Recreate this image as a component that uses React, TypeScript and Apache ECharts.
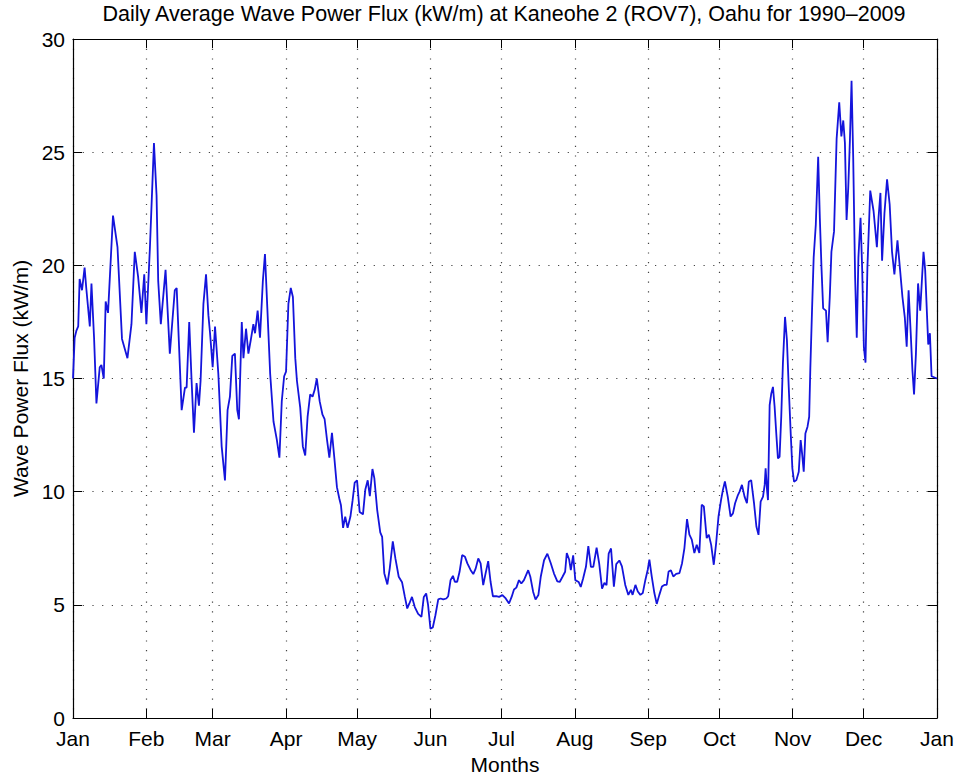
import React, { useEffect, useRef } from "react";
import * as echarts from "echarts";

const monthStarts = [0, 31, 59, 90, 120, 151, 181, 212, 243, 273, 304, 334, 365];
const monthLabels = ["Jan", "Feb", "Mar", "Apr", "May", "Jun", "Jul", "Aug", "Sep", "Oct", "Nov", "Dec", "Jan"];
const yTicks = [0, 5, 10, 15, 20, 25, 30];

const days = [
  0, 0.7, 1.4, 2.2, 2.8, 3.8, 4.9, 5.6, 7.1, 7.8, 8.9, 9.9, 11.3, 12.0, 13.0, 13.8, 14.8, 16.9, 18.8, 20.7,
  23.0, 24.7, 26.1, 27.5, 28.9, 30.1, 31.0, 32.5, 34.2, 35.3, 36.0, 37.1, 39.1, 40.9, 43.0, 43.8,
  45.9, 47.3, 48.0, 49.1, 50.1, 51.1, 52.2, 53.2, 53.9, 55.1, 56.2, 57.2, 57.9, 59.0, 60.0, 61.4, 62.8, 64.2,
  65.3, 66.3, 67.3, 68.4, 69.4, 70.1, 71.3, 72.0, 73.1, 74.1, 75.1, 76.2, 76.9, 78.0, 79.0, 80.2, 81.1, 82.1,
  83.3, 84.7, 86.1, 87.2, 88.2, 89.2,
  90.0, 91.0, 92.0, 92.9, 93.9, 94.6, 96.0, 97.1, 98.1, 99.1, 100.2, 101.2, 102.1, 103.0, 104.2, 105.4, 106.3,
  107.3, 108.3, 109.4, 110.4, 111.5, 112.5, 113.2, 114.1, 115.0, 116.0, 117.2, 118.1, 119.0, 120.0, 121.1,
  122.5, 123.5, 124.5, 125.4, 126.5, 127.3, 128.5, 129.8, 130.6, 131.5, 132.8, 133.8, 135.1,
  136.2, 137.6, 139.0, 140.2, 141.2, 142.1, 143.2, 144.4, 145.8, 147.2, 148.2, 149.2, 150.0, 151.0, 152.0,
  153.1, 154.3, 155.3, 156.4, 157.7, 158.5, 159.5, 160.5, 161.3, 162.3, 163.3, 164.4, 165.6, 166.6, 168.0,
  169.1, 170.1, 171.2, 172.2, 173.3, 174.3, 175.4, 176.4, 177.4, 178.8, 180.0,
  181.4, 182.8, 184.2, 185.3, 186.3, 187.3, 188.4, 189.4, 190.5, 192.3, 193.2, 194.4, 195.4, 196.6, 197.6,
  199.0, 200.4, 201.8, 203.2, 204.6, 205.6, 206.8, 207.9, 208.6, 209.6, 210.3, 211.3, 212.2, 213.6, 214.5,
  215.5, 216.7, 217.7, 218.8, 219.8, 221.2, 222.3, 223.5, 224.5, 225.4, 226.3, 227.3, 228.5, 229.5, 230.8,
  231.9, 233.3, 234.6, 235.7, 236.4, 237.6, 238.6, 239.7, 240.7, 241.8, 242.8, 243.5, 244.5, 245.6, 246.6,
  247.7, 248.8, 249.8, 250.8, 251.6, 252.6, 253.6, 254.8, 256.2, 257.3, 258.3, 259.4, 260.4, 261.4, 262.5,
  263.5, 264.6, 265.6, 266.5, 267.7, 268.6, 269.6, 270.7, 271.7, 272.7, 273.8,
  274.6, 275.4, 276.6, 277.8, 278.8, 279.7, 280.9, 281.6, 282.6, 283.7, 284.7, 285.5, 286.5, 287.7, 288.7,
  289.6, 290.5, 291.5, 292.2, 292.6, 293.2, 293.6, 294.3, 295.0, 295.7, 296.4, 297.1, 297.8, 298.5, 299.2,
  299.9, 300.8, 301.6, 302.3, 303.2, 303.9, 304.6, 305.6, 306.6, 307.4, 308.0, 308.7, 309.4, 310.3, 311.0,
  311.5, 312.2, 312.9,
  313.8, 314.8, 315.5, 316.2, 316.9, 318.1, 318.8, 319.7, 320.4, 321.5, 322.6, 323.7, 324.6, 325.4, 326.1,
  326.8, 327.5, 328.2, 328.9, 329.6, 330.4, 331.1, 331.8, 332.7, 333.4, 334.1, 334.8, 335.6, 336.8, 338.2,
  339.6, 340.3, 341.1, 341.8, 342.8, 343.9, 345.0, 346.0, 347.0, 348.3, 349.4, 350.4, 351.4, 352.2, 353.0,
  353.9, 354.6, 355.3, 356.1, 357.0, 357.9, 358.6, 359.3, 360.0, 360.7, 361.3, 362.0, 362.7, 365.0,
];

const flux = [
  15.0, 16.8, 17.1, 17.3, 19.4, 18.9, 19.9, 19.0, 17.3, 19.2, 16.8, 13.9, 15.5, 15.6, 15.0, 18.4, 17.9, 22.2, 20.8, 16.75,
  15.9, 17.4, 20.6, 19.5, 17.9, 19.6, 17.4, 20.8, 25.4, 23.1, 19.3, 17.4, 19.8, 16.1, 18.9, 19.0,
  13.6, 14.6, 14.6, 17.5, 14.9, 12.6, 14.8, 13.8, 14.9, 18.3, 19.6, 17.8, 17.0, 15.5, 17.3, 15.2, 12.0, 10.5,
  13.6, 14.2, 16.0, 16.1, 13.6, 13.2, 17.5, 15.9, 17.2, 16.1, 16.7, 17.4, 17.0, 18.0, 16.8, 19.3, 20.5, 18.1,
  15.2, 13.1, 12.3, 11.5, 14.0, 15.1,
  15.3, 18.3, 19.0, 18.6, 15.9, 14.9, 13.7, 12.0, 11.6, 13.3, 14.3, 14.2, 14.5, 15.0, 14.0, 13.4, 13.2,
  12.3, 11.5, 12.6, 11.5, 10.2, 9.7, 9.4, 8.4, 8.9, 8.4, 8.9, 9.6, 10.4, 10.5, 9.1,
  9.0, 10.1, 10.5, 9.8, 11.0, 10.6, 9.2, 8.2, 8.0, 6.4, 5.9, 6.6, 7.8,
  7.05, 6.24, 6.0, 5.35, 4.84, 5.06, 5.35, 4.9, 4.6, 4.47, 5.35, 5.5, 5.0, 3.95, 4.0,
  4.54, 5.24, 5.28, 5.24, 5.28, 5.38, 6.09, 6.28, 6.02, 6.02, 6.46, 7.2, 7.12, 6.83, 6.53,
  6.36, 6.6, 7.05, 6.83, 5.87, 6.39, 6.93, 6.02, 5.38, 5.38, 5.35,
  5.43, 5.28, 5.06, 5.35, 5.68, 5.76, 6.09, 5.94, 6.09, 6.53, 6.24, 5.57, 5.24, 5.43, 6.24,
  6.97, 7.26, 6.85, 6.38, 6.04, 6.01, 6.24, 6.46, 7.29, 7.0, 6.53, 7.19, 6.09, 6.01, 5.79,
  6.16, 6.68, 7.59, 6.68, 6.68, 7.53, 6.82, 5.72, 5.97, 5.87, 7.26, 7.49, 5.8, 6.8, 6.96,
  6.7, 5.88, 5.44, 5.66, 5.44, 5.88, 5.59, 5.44, 5.52, 6.1, 6.55, 7.0, 6.25, 5.52, 5.04,
  5.44, 5.81, 5.88, 5.88, 6.47, 6.52, 6.25, 6.37, 6.4, 6.84, 7.51, 8.79, 8.1, 7.88, 7.29,
  7.65, 7.29, 9.42, 9.35, 7.95, 8.1, 7.65, 6.77, 7.73, 8.91, 9.65,
  10.1, 10.45, 9.78, 8.9, 9.04, 9.49, 9.85, 10.0, 10.3, 9.78, 9.49, 10.44, 10.51, 9.49, 8.46,
  8.09, 9.56, 9.78, 10.3, 11.03, 10.07, 9.63, 13.82, 14.34, 14.63, 13.75, 12.57, 11.47, 11.54, 13.31,
  15.66, 17.72, 16.69, 14.78, 12.57, 11.03, 10.44, 10.51, 10.88, 12.28, 11.69, 10.88, 12.57, 12.87, 13.31,
  15.5, 18.0, 20.35,
  21.8, 24.8, 22.1, 19.9, 18.1, 18.0, 16.6, 18.6, 20.6, 21.5, 25.6, 27.2, 25.7, 26.4, 25.4,
  22.0, 23.4, 25.5, 28.15, 24.75, 19.5, 16.8, 20.35, 22.1, 19.8, 16.4, 15.7, 19.9, 23.3, 22.4,
  20.8, 22.1, 23.2, 20.2, 22.3, 23.8, 22.7, 20.6, 19.6, 21.1, 19.8, 18.6, 17.7, 16.4, 18.9,
  17.0, 15.4, 14.3, 16.1, 19.2, 18.0, 19.3, 20.6, 19.8, 18.0, 16.5, 17.0, 15.1, 15.0,
];

const FONT = "'Liberation Sans', Arial, Helvetica, sans-serif";

export default function App() {
  const ref = useRef<HTMLDivElement>(null);
  useEffect(() => {
    document.body.style.margin = "0";
    if (!ref.current) return;
    const chart = echarts.init(ref.current, null, { renderer: "svg" });
    const seriesData = days.map((d, i) => [d, flux[i]]);
    const gridLine = { show: true, lineStyle: { color: "#222", width: 1.2, type: [1.2, 8.5] as any, opacity: 0.85 } };
    const textStyle = { color: "#000", fontFamily: FONT, fontSize: 21 };
    const axisLine = { show: true, onZero: false, lineStyle: { color: "#000", width: 1.2 } };
    chart.setOption({
      animation: false,
      backgroundColor: "#fff",
      title: {
        text: "Daily Average Wave Power Flux (kW/m) at Kaneohe 2 (ROV7), Oahu for 1990\u20132009",
        left: 504,
        top: 0,
        textAlign: "center",
        padding: [3, 0, 0, 0],
        textStyle: { ...textStyle, fontWeight: "normal", fontSize: 21.5 },
      },
      grid: { left: 73, right: 23, top: 39, bottom: 60, containLabel: false, outerBoundsMode: "none" },
      xAxis: [
        {
          type: "value",
          min: 0,
          max: 365,
          position: "bottom",
          name: "Months",
          nameLocation: "middle",
          nameGap: 36,
          nameTextStyle: textStyle,
          axisLine,
          axisTick: { show: true, inside: true, length: 9, customValues: monthStarts, lineStyle: { color: "#000" } },
          axisLabel: {
            ...textStyle,
            margin: 12,
            lineHeight: 16,
            customValues: monthStarts,
            formatter: (v: number) => monthLabels[monthStarts.indexOf(v)] ?? "",
          },
          splitLine: gridLine,
        },
        {
          type: "value",
          min: 0,
          max: 365,
          position: "top",
          axisLine,
          axisTick: { show: true, inside: true, length: 9, customValues: monthStarts, lineStyle: { color: "#000" } },
          axisLabel: { show: false },
          splitLine: { show: false },
        },
      ],
      yAxis: [
        {
          type: "value",
          min: 0,
          max: 30,
          interval: 5,
          position: "left",
          name: "Wave Power Flux (kW/m)",
          nameLocation: "middle",
          nameGap: 42,
          nameTextStyle: textStyle,
          axisLine,
          axisTick: { show: true, inside: true, length: 9, lineStyle: { color: "#000" } },
          axisLabel: {
            ...textStyle,
            margin: 8,
            lineHeight: 12,
            formatter: (v: number) => (yTicks.includes(v) ? String(v) : ""),
          },
          splitLine: gridLine,
        },
        {
          type: "value",
          min: 0,
          max: 30,
          interval: 5,
          position: "right",
          axisLine,
          axisTick: { show: true, inside: true, length: 9, lineStyle: { color: "#000" } },
          axisLabel: { show: false },
          splitLine: { show: false },
        },
      ],
      series: [
        {
          type: "line",
          xAxisIndex: 0,
          yAxisIndex: 0,
          data: seriesData,
          showSymbol: false,
          symbol: "none",
          lineStyle: { color: "#1414dc", width: 1.8 },
          z: 5,
        },
      ],
    });
    return () => chart.dispose();
  }, []);
  return <div ref={ref} style={{ width: 960, height: 778 }} />;
}
